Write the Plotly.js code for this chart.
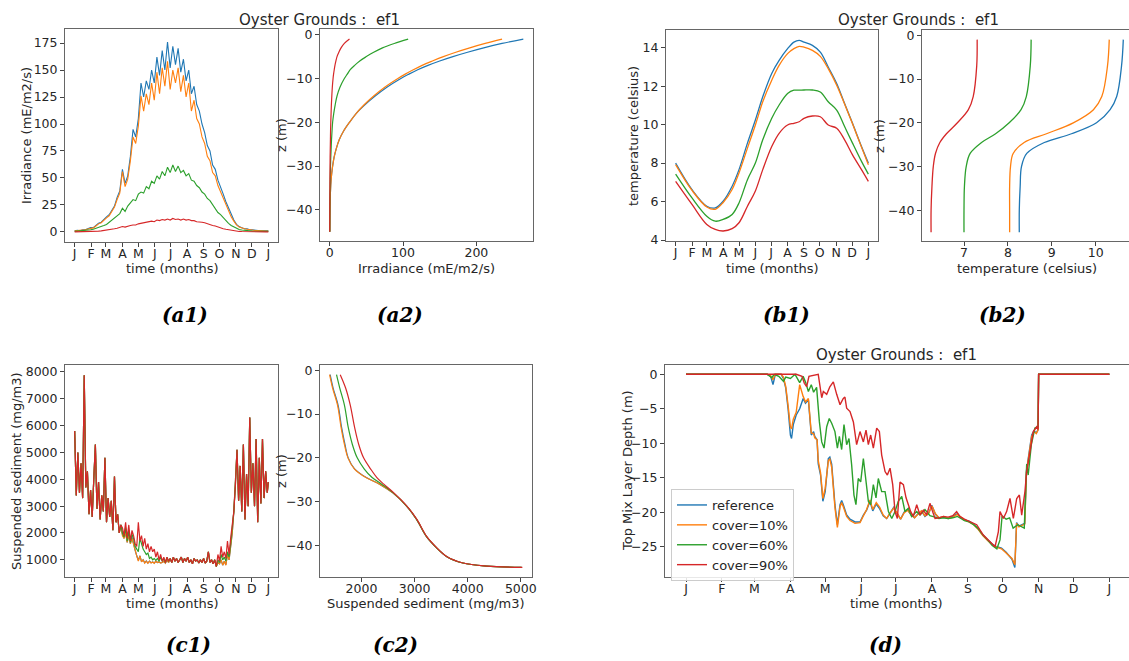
<!DOCTYPE html>
<html><head><meta charset="utf-8">
<script src="https://cdn.plot.ly/plotly-3.0.1.min.js"></script>
<style>html,body{margin:0;padding:0;background:#fff;}#chart{width:1129px;height:661px;}</style>
</head><body><div id="chart"></div>
<script>
// ---------- shared ticks ----------
const MONTH_DAYS = [0,31,59,90,120,151,181,212,243,273,304,334,365];
const MONTH_LABELS = ['J','F','M','A','M','J','J','A','S','O','N','D','J'];
const SERIES_NAMES = ['reference','cover=10%','cover=60%','cover=90%'];
const TITLE_TEXT = 'Oyster Grounds :\u00a0 ef1';

// ---------- (a1) irradiance time series ----------
const irrDays = [0,5,10,15,20,25,30,35,40,45,50,55,60,65,70,75,80,85,90,95,100,105,110,115,120,125,130,135,140,145,150,155,160,165,170,175,180,185,190,195,200,205,210,215,220,225,230,235,240,245,250,255,260,265,270,275,280,285,290,295,300,305,310,315,320,325,330,335,340,345,350,355,360,365];
const irrRef = [1,1.5,1,2,2,3,4,4,6,8, 9,12,14,16,20,24,32,38,58,45, 52,70,95,88,105,138,125,140,132,150, 138,162,145,168,150,176,152,172,155,170, 148,160,140,150,128,135,118,112,100,92, 80,75,62,58,48,42,35,28,22,16, 11,7,5,4,3,3,2,2,1.5,1.5, 1,1,1,1];
const irrC10 = [1,1.3,1,1.8,2,2.8,3.5,3.8,5.5,7.5, 8.5,11,13,15,19,23,30,36,56,42, 49,66,88,82,98,126,112,128,118,138, 122,148,128,152,135,158,132,150,138,152, 130,145,125,138,112,122,105,100,88,82, 70,66,55,52,43,37,31,25,19,14, 10,6.5,4.5,3.5,3,2.5,2,1.8,1.4,1.3, 1,1,0.9,0.9];
const irrC60 = [0.5,0.7,0.6,1,1.2,1.6,2,2.5,3.2,4, 5,6,7,9,11,13,15,17,22,19, 24,27,30,29,35,37,36,42,40,47, 45,52,49,56,52,60,55,62,56,61, 55,57,52,54,48,47,43,41,37,35, 31,29,25,22,18,16,13,10,8,6, 4.5,3,2.2,1.8,1.4,1.2,1,0.8,0.7,0.6, 0.5,0.5,0.5,0.5];
const irrC90 = [0.1,0.1,0.1,0.2,0.2,0.3,0.4,0.5,0.6,0.8, 1,1.3,1.6,2,2.5,3,3.5,4,5,4.5, 5.5,6,6.5,6.5,7.5,8,8,9,9,10, 9.5,11,10.5,11.5,11,12,11,12.5,11.5,12, 11,12,11,11.5,10.5,10.5,9.5,9.5,9,8.5, 7.5,7,6,5.5,4.5,4,3,2.5,2,1.5, 1,0.7,0.5,0.4,0.3,0.3,0.2,0.2,0.1,0.1, 0.1,0.1,0.1,0.1];

// ---------- (a2) irradiance profile ----------
const irrZ = [-1,-2,-3,-4,-5,-6,-7,-8,-9,-10,-12,-14,-16,-18,-20,-22,-24,-26,-28,-30,-33,-36,-40,-45];
const irrProfRef = [264,235,210,188,168,150,134,120,108,97,78,62,48,36,27,19,13,9,6,4,2,1,0.5,0.2];
const irrProfC10 = [235,212,191,172,155,140,126,114,103,93,75,60,47,36,27,19,13,9,6,4,2,1,0.5,0.2];
const irrProfC60 = [107,88,72,60,50,41,34,28,24,20,14,10,7.5,5.5,4,3.2,2.5,2,1.5,1.1,0.7,0.4,0.2,0.1];
const irrProfC90 = [27,20,15.5,12.5,10,8.5,7.2,6.2,5.3,4.6,3.6,2.9,2.3,1.9,1.5,1.2,1.0,0.8,0.6,0.5,0.35,0.25,0.15,0.05];

// ---------- (b1) temperature time series ----------
const tempDays = [0,31,59,75,90,107,120,136,151,165,182,196,212,224,234,243,259,274,289,305,320,335,352,365];
const tempRef = [8.0,6.62,5.76,5.67,6.02,6.8,7.66,9.04,10.24,11.45,12.66,13.34,13.95,14.29,14.38,14.29,14.12,13.77,13.0,12.14,11.1,10.07,8.86,8.0];
const tempC10 = [7.92,6.58,5.72,5.6,5.95,6.63,7.49,8.78,9.98,11.19,12.31,13.08,13.69,13.95,14.07,14.03,13.86,13.55,12.91,12.05,11.07,10.04,8.83,7.92];
const tempC60 = [7.43,6.19,5.24,4.98,5.07,5.33,5.93,7.14,8.0,9.21,10.33,11.02,11.62,11.79,11.79,11.8,11.8,11.7,11.19,10.76,9.9,9.04,8.09,7.43];
const tempC90 = [7.05,5.85,4.81,4.55,4.47,4.59,4.9,5.76,6.55,7.66,8.86,9.55,9.98,10.07,10.15,10.33,10.45,10.41,9.98,9.81,9.21,8.43,7.66,7.05];

// ---------- (b2) temperature profile ----------
const tempZ = [-1,-7,-14,-17,-20,-22.5,-24.5,-27,-30,-34.5,-40,-45];
const tempProfRef = [10.63,10.59,10.48,10.33,10.02,9.45,8.83,8.43,8.31,8.28,8.26,8.26];
const tempProfC10 = [10.31,10.27,10.14,9.95,9.49,8.88,8.37,8.12,8.06,8.04,8.04,8.04];
const tempProfC60 = [8.53,8.51,8.42,8.3,8.03,7.72,7.4,7.14,7.05,7.01,7.0,7.0];
const tempProfC90 = [7.3,7.29,7.21,7.1,6.85,6.6,6.45,6.35,6.3,6.27,6.25,6.25];

// ---------- (c1) suspended sediment time series ----------
const sedDays = [0,3,6,9,12,15,18,21,24,27,30,33,36,39,42,45,48,51,54,57,60,63,66,69,72,75,78,81,84,87,
  90,93,96,99,102,105,108,111,114,117,120,123,126,129,132,135,138,141,144,147,150,153,156,159,162,165,168,171,174,177,
  180,183,186,189,192,195,198,201,204,207,210,213,216,219,222,225,228,231,234,237,240,243,246,249,252,255,258,261,264,
  267,270,273,276,279,282,285,288,291,294,297,
  300,303,306,309,312,315,318,321,324,327,330,333,336,339,342,345,348,351,354,357,360,363,365];
const sedWinterStart = [5800,3400,5000,3500,4600,3300,7880,3700,4300,2700,3600,2600,4000,5300,2900,3900,2500,3400,2800,4800,2400,3300,2600,3200,2100,4100,2400,2700,2000,2300];
const sedSpringRef = [1950,1800,2050,1650,1950,1600,1850,1550,1350,1150,980,1150,930,1000,890,960,880,950,890,920,880,950,900,920,890,900,950,880,1000,900];
const sedSpringC10 = [1900,1800,2000,1650,1900,1600,1800,1550,1300,1150,950,1150,920,1000,880,950,870,950,880,920,870,950,900,920,880,900,950,880,1000,900];
const sedSpringC60 = [2000,1850,2200,1700,2100,1650,1950,1800,1500,1400,1300,1800,1600,1400,1300,1200,1250,1050,1100,1000,1050,980,1050,950,1100,950,1050,900,1100,950];
const sedSpringC90 = [2200,1900,2400,1800,2300,1700,2100,1900,1600,1500,2400,1700,1900,1500,1800,1400,1600,1300,1500,1300,1400,1100,1300,1000,1200,950,1100,900,1100,950];
const sedSummer = [1050,900,1100,950,1050,900,1000,1100,900,1050,950,1100,900,1000,850,1050,950,1000,880,1000,900,1050,880,950,1300,900,1000,850,1000];
const sedAutumnRef = [760,900,850,1000,800,950,820,1200,1000,1500,2000];
const sedAutumnC10 = [750,900,850,1000,800,950,800,1200,1000,1500,2000];
const sedAutumnC60 = [750,1000,900,1200,1000,1100,950,1300,1100,1600,2100];
const sedAutumnC90 = [750,1200,950,1500,1100,1300,1050,1700,1200,1800,2300];
const sedWinterEnd = [2800,3800,5100,3200,4500,2800,5300,2500,4200,3000,6300,3500,4600,3000,5500,2400,4800,3100,5500,3300,4300,3500,3900];

// ---------- (c2) suspended sediment profile ----------
const sedZ = [-1,-4,-8,-13,-17,-20,-22.5,-24.5,-26,-28,-31,-34,-38,-40.5,-42.5,-44,-44.7,-45];
const sedProfRef = [1410,1465,1560,1625,1690,1750,1870,2090,2340,2590,2850,3035,3225,3410,3600,3910,4350,5010];
const sedProfC10 = [1400,1455,1550,1615,1680,1745,1865,2085,2340,2590,2850,3035,3225,3410,3600,3910,4350,5010];
const sedProfC60 = [1530,1590,1680,1750,1830,1920,2050,2200,2380,2600,2850,3035,3225,3410,3600,3910,4350,5020];
const sedProfC90 = [1600,1700,1790,1870,1950,2040,2170,2290,2420,2610,2855,3040,3230,3415,3605,3915,4360,5030];

// ---------- (d) top mixed layer depth ----------
const mldRefDays = [0,70,73,75,77,82,84,86,88,90, 91,92.5,95,98,101,103,105.5,108,110,111, 113,114,116,118,120,122.7,124,125.6,128.4,130.5, 132.8,134.2,135.6,138.5,141.4,145.7,150,152.9,155.7,158.6, 161,164,167,170,173,176,179,182,185,188, 191,194,197,200,203,206,209,212,215,218, 222,226,230,234,237,240,244,248,252,256, 260,264,268,272,276,279,281,283.5,285,287, 290,292,293.5,296,298,300,302,303.5,304,365];
const mldRef = [0,0,-0.3,-1.5,0,0,-0.6,-2,-5,-8.8, -9.3,-7.3,-5.9,-5,-3.5,-4.2,-3.7,-8.8,-8.3,-9, -9.5,-13,-14.6,-18.4,-17,-12.2,-12,-13,-18.9,-21.8, -18.9,-18.3,-18.9,-20.4,-21,-21.4,-21.4,-20.4,-19.7,-18.4, -19.8,-18.8,-19.5,-20.5,-20.9,-20,-19.3,-20.2,-21,-20, -19.6,-20.4,-20.8,-20.2,-19.8,-20.6,-20.2,-19,-20.3,-20.8, -20.7,-20.9,-20.6,-20.2,-20.8,-21.1,-21.3,-21.7,-22.4,-23.3, -24,-24.6,-25,-25.2,-25.8,-26.4,-26.8,-28,-21.5,-22, -21.8,-21.6,-14,-11,-8.8,-8.2,-8.5,-8,0,0];
const mldC10 = [0,0,-0.2,-0.8,0,0,-0.4,-1.8,-4.5,-7.6, -7.9,-6.5,-5.5,-1.5,-3.2,-4,-3.5,-8.5,-8.6,-9.2, -9.5,-12.5,-14.3,-18,-16.5,-12.5,-12.3,-13.5,-19.3,-22.2, -19.2,-18.6,-19.2,-20.6,-21.2,-21.6,-21.5,-20.6,-19.6,-18.2, -19.6,-18.6,-19.3,-20.4,-20.9,-20.1,-19.4,-20.1,-21,-20.1, -19.7,-20.3,-20.8,-20.3,-19.8,-20.5,-20.2,-19.1,-20.2,-20.8, -20.6,-20.9,-20.7,-20.3,-20.7,-21.1,-21.4,-21.8,-22.5,-23.4, -24.1,-24.7,-25.1,-25.3,-25.9,-26.3,-26.7,-27.6,-21.6,-22.1, -21.9,-21.7,-14.2,-11.2,-9,-8.3,-8.6,-8.1,0,0];
const mldC60Days = [0,70,74,76,80,84,86,90,94,98, 101,103,105.5,108,110,112.6,115,117,119,121.3, 123.5,125.6,128.4,130.5,132.2,134.2,136.2,138.5,140.5,142.8, 144.8,146.5,148.5,150.6,152.9,155.2,157.2,159.2,161.5,163.8, 165.8,168.7,171.6,174.5,177.4,180.2,183,186,188.8,191.7, 194.5,198.9,201.7,206,210.3,214.7,218,222,226,230, 234,237,240,244,248,252,256,260,264,268, 270.7,272.5,276,279,282,286,291.6,293.7,295,297.7, 300.8,303.5,304,365];
const mldC60 = [0,0,-0.5,0,-0.3,-1,-0.4,-0.6,0,-1.2, -0.3,-1.1,-2.5,-1.5,-2.6,-1.9,-6.9,-9.8,-10.7,-7.6, -6.4,-7.1,-8.3,-10.7,-9,-10.9,-7.3,-10.2,-9.3,-13.1, -17.5,-18.9,-15.1,-15.6,-12.2,-16,-18.4,-18.9,-16,-17.9, -15.1,-17,-17,-19.9,-20.9,-19.9,-18.4,-17.7,-19.9,-19.4, -20.6,-19.9,-20.4,-19.6,-20.5,-20.7,-20.9,-20.8,-20.9,-20.8, -20.6,-20.9,-21.2,-21.4,-21.8,-22.4,-23.3,-24,-24.8,-25.3, -24,-20.5,-21,-20.8,-22.3,-21.8,-22.3,-13,-14.6,-10.2, -7.8,-7.6,0,0];
const mldC90Days = [0,95,100,102,104,106,114,117,118.4,121.3, 124,127,129.9,132.8,135.6,137,138.5,141.4,144.3,147.1, 150,152.9,155.2,157.2,159.2,161.5,164.4,166.7,168.7,171.6, 173.6,175.9,178.2,180.2,182.2,184.5,187.4,189.7,191.7,193.7, 196,198.9,201.7,204.6,207.5,210.3,212.6,214.7,218,222, 226,230,233.3,236,240,244,248,250.6,256.3,262.1, 266.4,269.3,270.7,273.6,276.4,279.3,282.2,285.1,287.4,289.4, 292.2,293.7,296.6,299.4,302.3,303.5,304,365];
const mldC90 = [0,0,-0.3,-1.3,-1.8,-0.3,0,-3.4,-2.5,-2.9, -1.8,-1.1,-2.9,-4.4,-3.5,-3.3,-4.9,-5.4,-6.9,-10.2, -8.3,-9.8,-8.1,-10.2,-8.8,-10.7,-7.8,-8.3,-11.7,-14.1, -14.6,-13.6,-16,-19.9,-20.9,-15.6,-16,-17.9,-18.9,-19.9, -20.6,-18.9,-20.4,-19.7,-20.4,-18.7,-19.9,-20.9,-20.8,-20.6, -20.7,-20.5,-19.9,-20.6,-21,-21.3,-21.6,-21.8,-23.3,-24.3, -25,-22.8,-19.9,-20.9,-19.9,-18,-20.9,-18,-17.5,-20.4, -17,-14.1,-11.2,-8.3,-7.6,-8,0,0];

// ---------- build ----------
const COLORS = ['#1f77b4','#ff7f0e','#2ca02c','#d62728'];
const W = 1129, H = 661;
const dx = (a, b) => [a / W, Math.min(b / W, 1)];
const dy = (top, bottom) => [1 - bottom / H, 1 - top / H];

const traces = [];
function addSet(xs, ys, xa, ya, opts) {
  for (let i = 0; i < 4; i++) {
    traces.push(Object.assign({
      type: 'scatter', mode: 'lines', x: xs[i], y: ys[i], xaxis: xa, yaxis: ya,
      name: SERIES_NAMES[i], showlegend: false, hoverinfo: 'skip',
      line: { color: COLORS[i], width: opts.width || 1.3, shape: opts.shape || 'linear' }
    }, opts.extra ? opts.extra(i) : {}));
  }
}
addSet([irrDays, irrDays, irrDays, irrDays], [irrRef, irrC10, irrC60, irrC90], 'x', 'y', { width: 1.1 });
addSet([irrProfRef, irrProfC10, irrProfC60, irrProfC90], [irrZ, irrZ, irrZ, irrZ], 'x2', 'y2', { width: 1.2, shape: 'spline' });
addSet([tempDays, tempDays, tempDays, tempDays], [tempRef, tempC10, tempC60, tempC90], 'x3', 'y3', { width: 1.3, shape: 'spline' });
addSet([tempProfRef, tempProfC10, tempProfC60, tempProfC90], [tempZ, tempZ, tempZ, tempZ], 'x4', 'y4', { width: 1.3, shape: 'spline' });
const sedRef = sedWinterStart.concat(sedSpringRef, sedSummer, sedAutumnRef, sedWinterEnd);
const sedC10 = sedWinterStart.concat(sedSpringC10, sedSummer, sedAutumnC10, sedWinterEnd);
const sedC60 = sedWinterStart.concat(sedSpringC60, sedSummer, sedAutumnC60, sedWinterEnd);
const sedC90 = sedWinterStart.concat(sedSpringC90, sedSummer, sedAutumnC90, sedWinterEnd);
addSet([sedDays, sedDays, sedDays, sedDays], [sedRef, sedC10, sedC60, sedC90], 'x5', 'y5', { width: 1.2 });
addSet([sedProfRef, sedProfC10, sedProfC60, sedProfC90], [sedZ, sedZ, sedZ, sedZ], 'x6', 'y6', { width: 1.2, shape: 'spline' });
addSet([mldRefDays, mldRefDays, mldC60Days, mldC90Days], [mldRef, mldC10, mldC60, mldC90], 'x7', 'y7',
  { width: 1.4, extra: () => ({ showlegend: true }) });

const tickFont = { family: 'DejaVu Sans, sans-serif', size: 12.5, color: '#262626' };
function ax(extra) {
  return Object.assign({
    showline: true, mirror: true, linecolor: '#666', linewidth: 1,
    ticks: 'outside', ticklen: 4, tickwidth: 1, tickcolor: '#444',
    showgrid: false, zeroline: false, tickfont: tickFont, fixedrange: true, automargin: false
  }, extra);
}
function xax(extra) { return ax(Object.assign({ ticklabelstandoff: -4 }, extra)); }
const timeTicks = { tickmode: 'array', tickvals: MONTH_DAYS, ticktext: MONTH_LABELS };

const annotations = [];
function ann(text, x, y, opts) {
  annotations.push(Object.assign({
    text: text, x: x / W, y: 1 - y / H, xref: 'paper', yref: 'paper',
    showarrow: false, xanchor: 'center', yanchor: 'middle',
    font: { family: 'DejaVu Sans, sans-serif', size: 13, color: '#262626' }
  }, opts || {}));
}
const titleFont = { family: 'DejaVu Sans, sans-serif', size: 15, color: '#262626' };
ann(TITLE_TEXT, 319, 20, { font: titleFont });
ann(TITLE_TEXT, 919, 20, { font: titleFont });
ann(TITLE_TEXT, 896, 355, { font: titleFont });
ann('Irradiance (mE/m2/s)', 26, 136, { textangle: -90 });
ann('time (months)', 172, 268);
ann('z (m)', 281, 135, { textangle: -90 });
ann('Irradiance (mE/m2/s)', 426, 268);
ann('temperature (celsius)', 633, 136, { textangle: -90 });
ann('time (months)', 772, 268);
ann('z (m)', 879, 136, { textangle: -90 });
ann('temperature (celsius)', 1027, 268);
ann('Suspended sediment (mg/m3)', 16, 471, { textangle: -90 });
ann('time (months)', 172, 603);
ann('z (m)', 281, 471, { textangle: -90 });
ann('Suspended sediment (mg/m3)', 426, 603);
ann('Top Mix Layer Depth (m)', 627, 471, { textangle: -90 });
ann('time (months)', 896, 603);
const panelFont = { family: 'DejaVu Serif, serif', size: 20, color: '#000' };
[['(a1)', 185, 315], ['(a2)', 400, 315], ['(b1)', 786, 315], ['(b2)', 1002, 315],
 ['(c1)', 188, 645], ['(c2)', 395, 645], ['(d)', 885, 645]].forEach(p =>
  ann('<b><i>' + p[0] + '</i></b>', p[1], p[2], { font: panelFont }));

const layout = {
  width: W, height: H, margin: { l: 0, r: 0, t: 0, b: 0 },
  paper_bgcolor: '#fff', plot_bgcolor: '#fff',
  showlegend: true,
  legend: {
    x: 671 / W, y: 1 - 489 / H, xanchor: 'left', yanchor: 'top',
    bgcolor: 'rgba(255,255,255,0.85)', bordercolor: '#ccc', borderwidth: 1,
    font: { family: 'DejaVu Sans, sans-serif', size: 13, color: '#262626' },
    itemwidth: 30, tracegroupgap: 0
  },
  xaxis: xax(Object.assign({ domain: dx(65, 278), range: [-18.25, 383.25], anchor: 'y' }, timeTicks)),
  yaxis: ax({ domain: dy(29, 242), range: [-9.3, 188], dtick: 25, tick0: 0, anchor: 'x' }),
  xaxis2: xax({ domain: dx(320, 533), range: [-13.2, 277.2], dtick: 100, tick0: 0, anchor: 'y2' }),
  yaxis2: ax({ domain: dy(29, 241), range: [-47.1, 1.3], dtick: 10, tick0: 0, anchor: 'x2' }),
  xaxis3: xax(Object.assign({ domain: dx(666, 878), range: [-18.25, 383.25], anchor: 'y3' }, timeTicks)),
  yaxis3: ax({ domain: dy(30, 241), range: [3.95, 14.92], dtick: 2, tick0: 0, anchor: 'x3' }),
  xaxis4: xax({ domain: dx(922, 1129), range: [6.043, 10.76], dtick: 1, tick0: 0, anchor: 'y4' }),
  yaxis4: ax({ domain: dy(30, 241), range: [-47.0, 1.2], dtick: 10, tick0: 0, anchor: 'x4' }),
  xaxis5: xax(Object.assign({ domain: dx(65, 278), range: [-18.25, 383.25], anchor: 'y5' }, timeTicks)),
  yaxis5: ax({ domain: dy(365, 577), range: [360, 8260], dtick: 1000, tick0: 0, anchor: 'x5' }),
  xaxis6: xax({ domain: dx(320, 532), range: [1219, 5211], dtick: 1000, tick0: 0, anchor: 'y6' }),
  yaxis6: ax({ domain: dy(365, 577), range: [-47.2, 1.2], dtick: 10, tick0: 0, anchor: 'x6' }),
  xaxis7: xax(Object.assign({ domain: dx(665, 1129), range: [-18.1, 381.9], anchor: 'y7' }, timeTicks)),
  yaxis7: ax({ domain: dy(365, 577), range: [-29.38, 1.35], dtick: 5, tick0: 0, anchor: 'x7' }),
  annotations: annotations
};

Plotly.newPlot('chart', traces, layout, { staticPlot: true, displayModeBar: false });
</script></body></html>
